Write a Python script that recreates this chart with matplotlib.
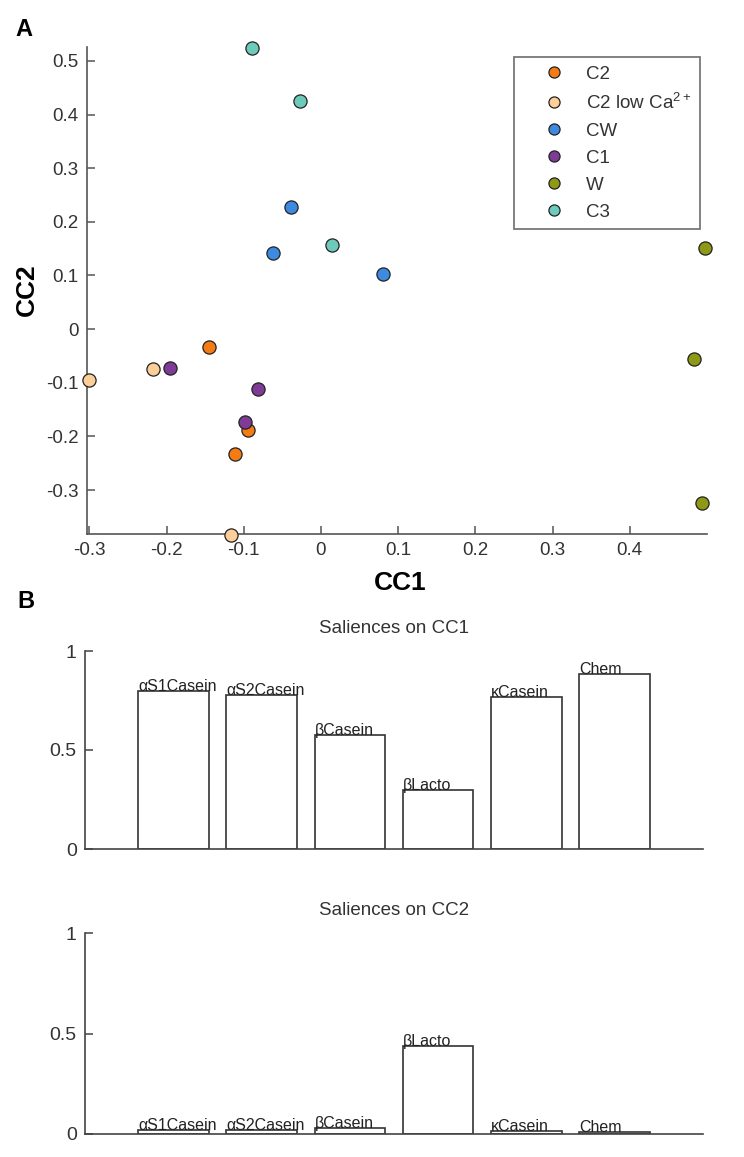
import matplotlib
matplotlib.use('Agg')
import matplotlib.pyplot as plt
from matplotlib.ticker import FuncFormatter
from matplotlib.lines import Line2D

plt.rcParams['font.family'] = ['Liberation Sans', 'DejaVu Sans']
plt.rcParams['mathtext.default'] = 'regular'
plt.rcParams['axes.unicode_minus'] = False

# canonical scores (panel A)
groups = ['C2', 'C2 low Ca$^{2+}$', 'CW', 'C1', 'W', 'C3']
colors = ['#f57c14', '#fbcf97', '#3d8ae0', '#7e3c96', '#8e9a16', '#6dcbbb']
cc1 = [
    [-0.145, -0.094, -0.111],
    [-0.300, -0.218, -0.116],
    [-0.039, -0.062, 0.081],
    [-0.195, -0.081, -0.098],
    [0.497, 0.483, 0.494],
    [-0.089, -0.027, 0.014],
]
cc2 = [
    [-0.034, -0.188, -0.233],
    [-0.095, -0.075, -0.384],
    [0.227, 0.142, 0.102],
    [-0.073, -0.112, -0.173],
    [0.151, -0.056, -0.324],
    [0.525, 0.425, 0.156],
]

# saliences (panel B)
variables = ['\u03b1S1Casein', '\u03b1S2Casein', '\u03b2Casein', '\u03b2Lacto', '\u03baCasein', 'Chem']
sal_cc1 = [0.80, 0.78, 0.575, 0.30, 0.77, 0.885]
sal_cc2 = [0.02, 0.02, 0.03, 0.44, 0.015, 0.01]

W, H = 744, 1157
fig = plt.figure(figsize=(W / 100, H / 100), dpi=100)

def fig_rect(l, t, r, b):
    return [l / W, 1 - b / H, (r - l) / W, (b - t) / H]

txt = '#333333'

# ---------------- panel A
ax = fig.add_axes(fig_rect(87, 47, 707, 534))
for g, c, xs, ys in zip(groups, colors, cc1, cc2):
    ax.scatter(xs, ys, s=90, color=c, edgecolors='#222222', linewidths=0.9, zorder=3, clip_on=False)
ax.set_xlim(-0.303, 0.5)
ax.set_ylim(-0.382, 0.526)
ax.set_xticks([-0.3, -0.2, -0.1, 0, 0.1, 0.2, 0.3, 0.4])
ax.set_yticks([-0.3, -0.2, -0.1, 0, 0.1, 0.2, 0.3, 0.4, 0.5])
fmt = FuncFormatter(lambda v, p: f'{v:g}')
ax.xaxis.set_major_formatter(fmt)
ax.yaxis.set_major_formatter(fmt)
for s in ['top', 'right']:
    ax.spines[s].set_visible(False)
for s in ['left', 'bottom']:
    ax.spines[s].set_color('#555555')
    ax.spines[s].set_linewidth(1.2)
ax.tick_params(direction='in', length=6, width=1.1, color='#555555',
               labelsize=13.5, labelcolor=txt, pad=6)

handles = [Line2D([], [], marker='o', linestyle='', markersize=8, markerfacecolor=c,
                  markeredgecolor='#222222', markeredgewidth=0.9) for c in colors]
leg = ax.legend(handles, groups, loc='upper right', bbox_to_anchor=(700 / W, 1 - 57 / H),
                bbox_transform=fig.transFigure, fontsize=13.5, frameon=True, fancybox=False,
                handlelength=3.4, handletextpad=0.0, borderpad=0.45, labelspacing=0.53,
                borderaxespad=0)
leg.get_frame().set_edgecolor('#555555')
leg.get_frame().set_linewidth(1.3)
for t in leg.get_texts():
    t.set_color(txt)

fig.text(400 / W, 1 - 583 / H, 'CC1', ha='center', va='center', fontsize=19, fontweight='bold')
fig.text(27 / W, 1 - 290 / H, 'CC2', ha='center', va='center', fontsize=19, fontweight='bold', rotation=90)
fig.text(15 / W, 1 - 30 / H, 'A', ha='left', va='center', fontsize=17, fontweight='bold')
fig.text(17 / W, 1 - 602 / H, 'B', ha='left', va='center', fontsize=17, fontweight='bold')

# ---------------- panel B
def salience_panel(rect, vals, title):
    bx = fig.add_axes(rect)
    pos = list(range(1, len(variables) + 1))
    bx.bar(pos, vals, width=0.8, color='white', edgecolor='#333333', linewidth=1.2)
    for p, v, name in zip(pos, vals, variables):
        bx.text(p - 0.4, v, name, ha='left', va='baseline', fontsize=11.5, color='#222222')
    bx.set_xlim(0, 7)
    bx.set_ylim(0, 1)
    bx.set_xticks([])
    bx.set_yticks([0, 0.5, 1])
    bx.yaxis.set_major_formatter(fmt)
    for s in ['top', 'right']:
        bx.spines[s].set_visible(False)
    for s in ['left', 'bottom']:
        bx.spines[s].set_color('#444444')
        bx.spines[s].set_linewidth(1.2)
    bx.tick_params(axis='y', direction='in', length=6, width=1.1, color='#444444',
                   labelsize=14, labelcolor=txt, pad=6)
    bx.set_title(title, fontsize=13.5, color=txt, pad=13)
    return bx

salience_panel(fig_rect(85, 651, 703, 849), sal_cc1, 'Saliences on CC1')
salience_panel(fig_rect(85, 933, 703, 1134), sal_cc2, 'Saliences on CC2')

fig.savefig('out.png', dpi=100)
